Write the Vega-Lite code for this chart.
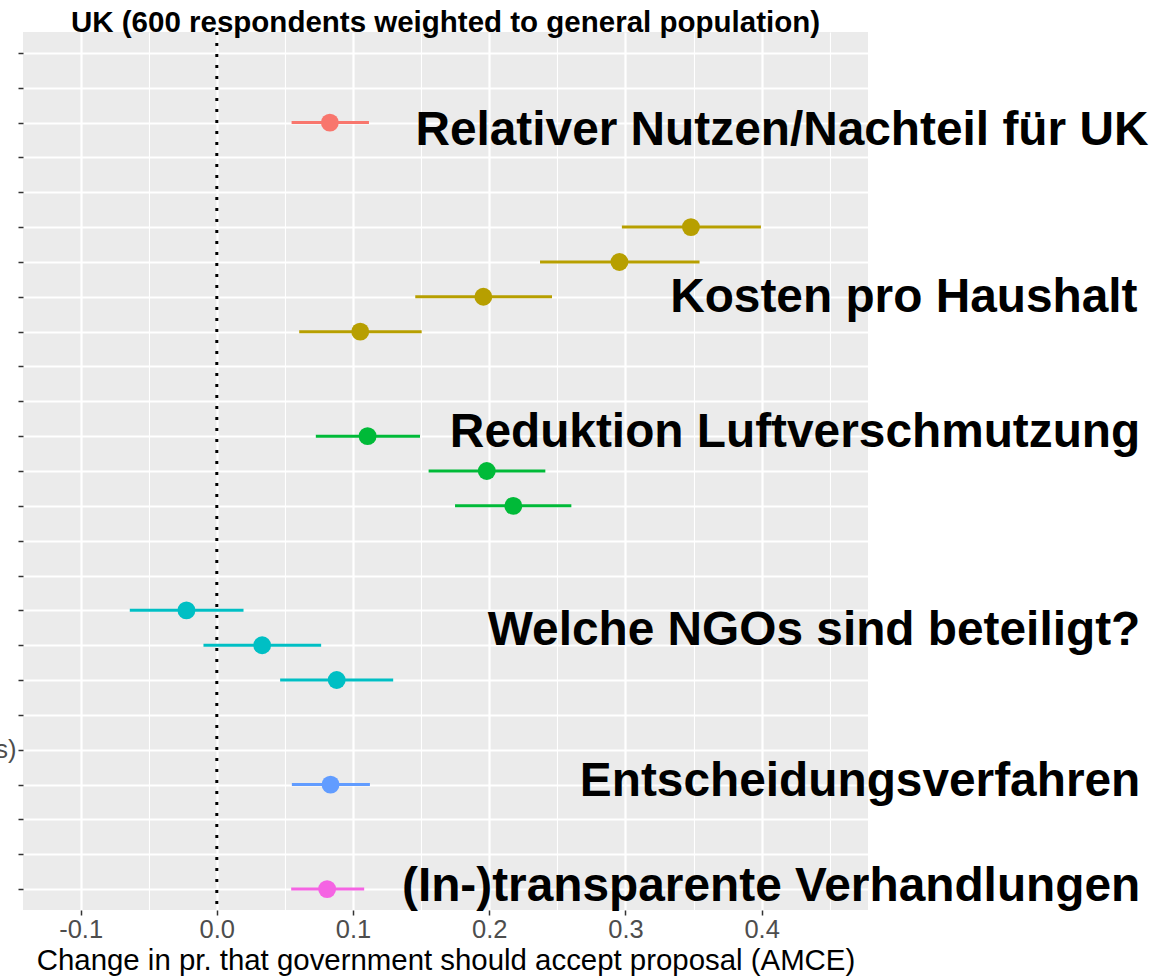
{
  "$schema": "https://vega.github.io/schema/vega-lite/v6.json",
  "width": 845,
  "height": 878,
  "autosize": {"type": "none"},
  "padding": {"left": 23, "top": 32, "right": 301, "bottom": 66},
  "background": "white",
  "title": {
    "text": "UK (600 respondents weighted to general population)",
    "font": "Liberation Sans",
    "fontSize": 29.5,
    "fontWeight": "bold",
    "color": "#000000",
    "anchor": "middle",
    "baseline": "alphabetic",
    "offset": -31
  },
  "datasets": {
    "estimates": [
      {"row": 2, "group": "Relativer Nutzen", "est": 0.0830, "lo": 0.0549, "hi": 0.1117},
      {"row": 5, "group": "Kosten", "est": 0.3481, "lo": 0.2974, "hi": 0.3995},
      {"row": 6, "group": "Kosten", "est": 0.2956, "lo": 0.2373, "hi": 0.3544},
      {"row": 7, "group": "Kosten", "est": 0.1957, "lo": 0.1457, "hi": 0.2461},
      {"row": 8, "group": "Kosten", "est": 0.1053, "lo": 0.0605, "hi": 0.1504},
      {"row": 11, "group": "Luftverschmutzung", "est": 0.1107, "lo": 0.0727, "hi": 0.1492},
      {"row": 12, "group": "Luftverschmutzung", "est": 0.1982, "lo": 0.1555, "hi": 0.2412},
      {"row": 13, "group": "Luftverschmutzung", "est": 0.2177, "lo": 0.1749, "hi": 0.2603},
      {"row": 16, "group": "NGOs", "est": -0.0223, "lo": -0.0639, "hi": 0.0196},
      {"row": 17, "group": "NGOs", "est": 0.0333, "lo": -0.0098, "hi": 0.0766},
      {"row": 18, "group": "NGOs", "est": 0.0880, "lo": 0.0465, "hi": 0.1295},
      {"row": 21, "group": "Entscheidungsverfahren", "est": 0.0835, "lo": 0.0551, "hi": 0.1124},
      {"row": 24, "group": "Transparenz", "est": 0.0810, "lo": 0.0546, "hi": 0.1082}
    ],
    "annotations": [
      {"label": "Relativer Nutzen/Nachteil für UK", "tx": 0.684, "row": 2.63},
      {"label": "Kosten pro Haushalt", "tx": 0.676, "row": 7.44},
      {"label": "Reduktion Luftverschmutzung", "tx": 0.678, "row": 11.30},
      {"label": "Welche NGOs sind beteiligt?", "tx": 0.678, "row": 16.98},
      {"label": "Entscheidungsverfahren", "tx": 0.678, "row": 21.33},
      {"label": "(In-)transparente Verhandlungen", "tx": 0.678, "row": 24.33}
    ],
    "reference": [{"ref": 0}]
  },
  "layer": [
    {
      "data": {"name": "reference"},
      "mark": {"type": "rule", "color": "#000000", "strokeWidth": 3, "strokeDash": [3, 8]},
      "encoding": {
        "x": {
          "field": "ref",
          "type": "quantitative",
          "scale": {"domain": [-0.1423, 0.4781], "nice": false, "zero": false},
          "title": "Change in pr. that government should accept proposal (AMCE)",
          "axis": {
            "values": [-0.1, -0.05, 0, 0.05, 0.1, 0.15, 0.2, 0.25, 0.3, 0.35, 0.4, 0.45],
            "tickCount": 20,
            "format": ".1f",
            "labelExpr": "abs(round(datum.value*10) - datum.value*10) > 0.25 ? '' : replace(datum.label, '\u2212', '-')",
            "domain": false,
            "grid": true,
            "gridColor": "#FFFFFF",
            "gridWidth": {"condition": {"test": "abs(round(datum.value*10) - datum.value*10) > 0.25", "value": 1.1}, "value": 2.2},
            "ticks": true,
            "tickColor": "#333333",
            "tickWidth": 1.5,
            "tickSize": 5,
            "tickOpacity": {"condition": {"test": "abs(round(datum.value*10) - datum.value*10) > 0.25", "value": 0}, "value": 1},
            "labelFont": "Liberation Sans",
            "labelFontSize": 25.5,
            "labelColor": "#4D4D4D",
            "labelPadding": 2,
            "labelOverlap": false,
            "titleFont": "Liberation Sans",
            "titleFontSize": 29.4,
            "titleFontWeight": "normal",
            "titleColor": "#000000",
            "titlePadding": 4
          }
        }
      }
    },
    {
      "data": {"name": "estimates"},
      "mark": {"type": "rule", "strokeWidth": 3, "strokeCap": "butt"},
      "encoding": {
        "x": {"field": "lo", "type": "quantitative", "title": "Change in pr. that government should accept proposal (AMCE)"},
        "x2": {"field": "hi"},
        "y": {
          "field": "row",
          "type": "quantitative",
          "scale": {"domain": [-0.6, 24.6], "reverse": true, "nice": false, "zero": false},
          "axis": {
            "title": null,
            "values": [0, 1, 2, 3, 4, 5, 6, 7, 8, 9, 10, 11, 12, 13, 14, 15, 16, 17, 18, 19, 20, 21, 22, 23, 24],
            "tickCount": 40,
            "labelExpr": "datum.value == 20 ? '(only governments)' : ''",
            "labelLimit": 0,
            "labelOverlap": false,
            "domain": false,
            "grid": true,
            "gridColor": "#FFFFFF",
            "gridWidth": 2.2,
            "tickColor": "#333333",
            "tickWidth": 1.5,
            "tickSize": 5,
            "labelFont": "Liberation Sans",
            "labelFontSize": 25.5,
            "labelColor": "#4D4D4D",
            "labelPadding": 2
          }
        },
        "color": {
          "field": "group",
          "type": "nominal",
          "scale": {
            "domain": ["Relativer Nutzen", "Kosten", "Luftverschmutzung", "NGOs", "Entscheidungsverfahren", "Transparenz"],
            "range": ["#F8766D", "#B79F00", "#00BA38", "#00BFC4", "#619CFF", "#F564E3"]
          },
          "legend": null
        }
      }
    },
    {
      "data": {"name": "estimates"},
      "mark": {"type": "circle", "size": 320, "opacity": 1},
      "encoding": {
        "x": {"field": "est", "type": "quantitative", "title": "Change in pr. that government should accept proposal (AMCE)"},
        "y": {"field": "row", "type": "quantitative"},
        "color": {"field": "group", "type": "nominal", "legend": null}
      }
    },
    {
      "data": {"name": "annotations"},
      "mark": {"type": "text", "align": "right", "baseline": "alphabetic", "font": "Liberation Sans", "fontSize": 47.8, "fontWeight": "bold", "color": "#000000"},
      "encoding": {
        "x": {"field": "tx", "type": "quantitative", "title": "Change in pr. that government should accept proposal (AMCE)"},
        "y": {"field": "row", "type": "quantitative"},
        "text": {"field": "label"}
      }
    }
  ],
  "config": {
    "view": {"fill": "#EBEBEB", "stroke": null}
  }
}
